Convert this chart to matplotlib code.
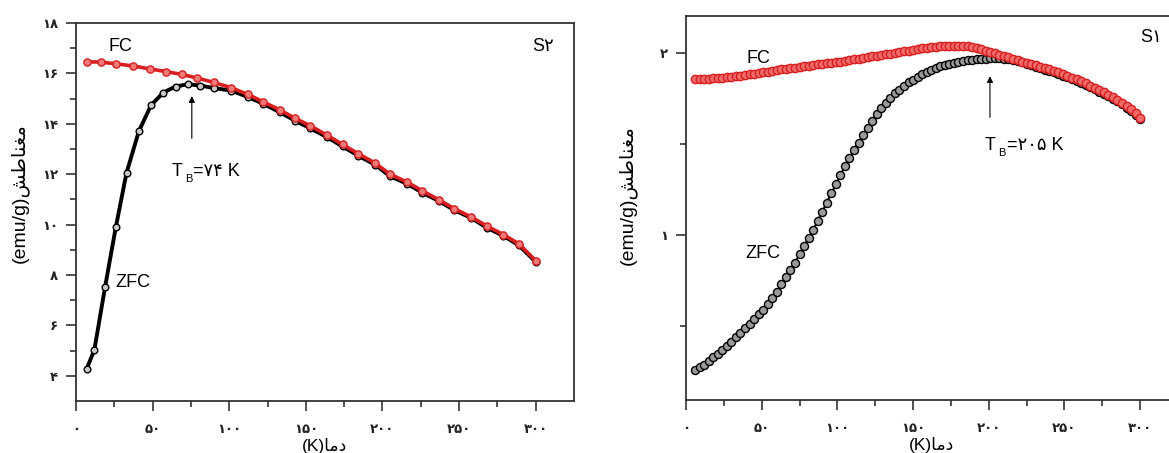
import matplotlib
matplotlib.use("Agg")
import matplotlib.pyplot as plt
import numpy as np

plt.rcParams['font.family'] = ['Liberation Sans', 'DejaVu Sans']

# --- S2 (left panel) ---
t_zfc_s2 = [7, 12, 19, 26, 33, 41, 49, 57, 65, 73, 81, 90, 101, 112, 122, 133,
            143, 153, 164, 174, 184, 195, 205, 216, 226, 237, 247, 258, 268, 279, 289, 300]
m_zfc_s2 = [4.28, 5.03, 7.53, 9.9, 12.06, 13.7, 14.74, 15.24, 15.48, 15.57, 15.52, 15.42,
            15.32, 15.07, 14.80, 14.46, 14.12, 13.82, 13.46, 13.10, 12.74, 12.38, 11.92,
            11.62, 11.27, 10.93, 10.57, 10.26, 9.88, 9.55, 9.18, 8.52]
t_fc_s2 = [7, 16, 26, 37, 48, 59, 69, 79, 90, 101, 112, 122, 133, 143, 153, 164, 174,
           184, 195, 205, 216, 226, 237, 247, 258, 268, 279, 289, 300]
m_fc_s2 = [16.46, 16.45, 16.38, 16.30, 16.18, 16.07, 15.96, 15.82, 15.64, 15.44, 15.17,
           14.88, 14.55, 14.22, 13.92, 13.54, 13.18, 12.82, 12.45, 12.00, 11.69, 11.34,
           10.98, 10.63, 10.30, 9.95, 9.60, 9.24, 8.57]

# --- S1 (right panel), measured every 3 K ---
t_s1 = np.arange(6, 301, 3)
m_fc_s1 = [1.858, 1.859, 1.860, 1.861, 1.862, 1.864, 1.866, 1.868, 1.871, 1.874,
           1.877, 1.880, 1.884, 1.888, 1.892, 1.896, 1.900, 1.904, 1.908, 1.912,
           1.915, 1.919, 1.922, 1.926, 1.929, 1.932, 1.936, 1.939, 1.942, 1.945,
           1.948, 1.952, 1.955, 1.959, 1.963, 1.967, 1.971, 1.975, 1.979, 1.983,
           1.987, 1.991, 1.995, 1.999, 2.003, 2.007, 2.011, 2.015, 2.019, 2.023,
           2.027, 2.030, 2.033, 2.036, 2.039, 2.041, 2.042, 2.043, 2.043, 2.042,
           2.039, 2.035, 2.029, 2.022, 2.014, 2.006, 2.000, 1.993, 1.986, 1.979,
           1.971, 1.963, 1.955, 1.948, 1.941, 1.934, 1.927, 1.920, 1.913, 1.905,
           1.896, 1.887, 1.877, 1.867, 1.857, 1.846, 1.835, 1.823, 1.811, 1.799,
           1.786, 1.773, 1.759, 1.745, 1.729, 1.711, 1.692, 1.670, 1.645]
m_zfc_s1 = [0.260, 0.275, 0.290, 0.310, 0.330, 0.350, 0.370, 0.390, 0.415, 0.440,
            0.465, 0.490, 0.515, 0.540, 0.565, 0.590, 0.620, 0.655, 0.690, 0.730,
            0.770, 0.810, 0.850, 0.895, 0.940, 0.985, 1.030, 1.080, 1.130, 1.180,
            1.230, 1.280, 1.330, 1.380, 1.425, 1.470, 1.510, 1.550, 1.590, 1.630,
            1.665, 1.700, 1.730, 1.755, 1.780, 1.800, 1.820, 1.840, 1.855, 1.870,
            1.885, 1.900, 1.910, 1.920, 1.928, 1.935, 1.942, 1.948, 1.953, 1.957,
            1.961, 1.964, 1.967, 1.969, 1.971, 1.972, 1.973, 1.972, 1.971, 1.968,
            1.964, 1.959, 1.952, 1.944, 1.935, 1.926, 1.917, 1.911, 1.904, 1.896,
            1.887, 1.878, 1.868, 1.858, 1.848, 1.837, 1.826, 1.814, 1.802, 1.790,
            1.777, 1.764, 1.750, 1.736, 1.720, 1.702, 1.683, 1.661, 1.637]

x_ticks = [0, 50, 100, 150, 200, 250, 300]
y_ticks_s2 = [4, 6, 8, 10, 12, 14, 16, 18]
y_ticks_s1 = [1, 2]

FA_DIGITS = str.maketrans('0123456789', '۰۱۲۳۴۵۶۷۸۹')


def fa(v):
    return str(v).translate(FA_DIGITS)


# pre-shaped Persian strings in visual order (matplotlib does no shaping)
YLABEL = '(emu/g)' + '\uFEB6\uFEC3\uFE8E\uFEE8\uFED0\uFEE3'
XLABEL = '(K)' + '\uFE8E\uFEE3\uFEA9'

RED = '#d81e1e'
SPINE = '#333333'

fig = plt.figure(figsize=(11.69, 4.53), dpi=100)
ax1 = fig.add_axes([0.0650, 0.1148, 0.4260, 0.8344])
ax2 = fig.add_axes([0.5868, 0.1170, 0.4209, 0.8483])


def style_axes(ax, yticks, ylim, yminor):
    ax.set_xlim(0, 325)
    ax.set_ylim(*ylim)
    ax.set_xticks(x_ticks)
    ax.set_xticks(np.arange(25, 325, 50), minor=True)
    ax.set_xticklabels([fa(v) for v in x_ticks], family='DejaVu Sans',
                       fontsize=9.5, fontweight='bold', color='#222222')
    ax.set_yticks(yticks)
    ax.set_yticks(yminor, minor=True)
    ax.set_yticklabels([fa(v) for v in yticks], family='DejaVu Sans',
                       fontsize=9.5, fontweight='bold', color='#222222')
    ax.tick_params(which='major', direction='out', length=7, width=1.2, color=SPINE)
    ax.tick_params(which='minor', direction='out', length=4, width=1.2, color=SPINE)
    ax.tick_params(axis='x', pad=9)
    ax.tick_params(axis='y', pad=6)
    for s in ax.spines.values():
        s.set_linewidth(1.3)
        s.set_color(SPINE)
    ax.set_xlabel(XLABEL, fontsize=12.5, family=['Liberation Sans', 'DejaVu Sans'])
    ax.set_ylabel(YLABEL, fontsize=14, family=['Liberation Sans', 'DejaVu Sans'])


# left panel: S2
ax1.plot(t_zfc_s2, m_zfc_s2, '-o', color='black', lw=2.8, ms=4.8, mfc='#c8c8c8',
         mec='black', mew=1.0, zorder=3)
ax1.plot(t_fc_s2, m_fc_s2, '-o', color=RED, lw=2.6, ms=5.2, mfc='#f07a7a',
         mec=RED, mew=1.0, zorder=4)
style_axes(ax1, y_ticks_s2, (3, 18), [5, 7, 9, 11, 13, 15, 17])
ax1.xaxis.set_label_coords(0.5, -0.097)
ax1.yaxis.set_label_coords(-0.095, 0.55)

ax1.text(21, 16.87, 'FC', fontsize=13)
ax1.text(25.5, 7.53, 'ZFC', fontsize=13)
ax1.text(298, 16.9, 'S' + fa(2), fontsize=13)
ax1.annotate('', xy=(75.6, 15.21), xytext=(75.6, 13.31),
             arrowprops=dict(arrowstyle='-|>', lw=0.8, color='black', mutation_scale=9))
ax1.text(62.5, 11.92, 'T', fontsize=13)
ax1.annotate('B', xy=(62.5, 11.92), xytext=(9.5, -4.5), textcoords='offset points',
             fontsize=8)
ax1.annotate('=' + fa(74) + ' K', xy=(62.5, 11.92), xytext=(15.5, 0),
             textcoords='offset points', fontsize=13)

# right panel: S1 (dense measurement, markers overlap into a chain)
ax2.plot(t_s1, m_zfc_s1, '-o', color='black', lw=1.5, ms=5.8, mfc='#9a9a9a',
         mec='black', mew=1.0, zorder=3)
ax2.plot(t_s1, m_fc_s1, '-o', color=RED, lw=1.5, ms=6.0, mfc='#f06a6a',
         mec=RED, mew=1.0, zorder=4)
style_axes(ax2, y_ticks_s1, (0.095, 2.207), [0.5, 1.5])
ax2.xaxis.set_label_coords(0.5, -0.095)
ax2.yaxis.set_label_coords(-0.10, 0.534)

ax2.text(40.1, 1.945, 'FC', fontsize=13)
ax2.text(39.4, 0.874, 'ZFC', fontsize=13)
ax2.text(299.9, 2.064, 'S' + fa(1), fontsize=13)
ax2.annotate('', xy=(200.8, 1.89), xytext=(200.8, 1.633),
             arrowprops=dict(arrowstyle='-|>', lw=0.8, color='black', mutation_scale=9))
ax2.text(197.5, 1.469, 'T', fontsize=13)
ax2.annotate('B', xy=(197.5, 1.469), xytext=(9.5, -4.5), textcoords='offset points',
             fontsize=8)
ax2.annotate('=' + fa(205) + ' K', xy=(197.5, 1.469), xytext=(15.5, 0),
             textcoords='offset points', fontsize=13)

fig.savefig('out.png', dpi=100)
